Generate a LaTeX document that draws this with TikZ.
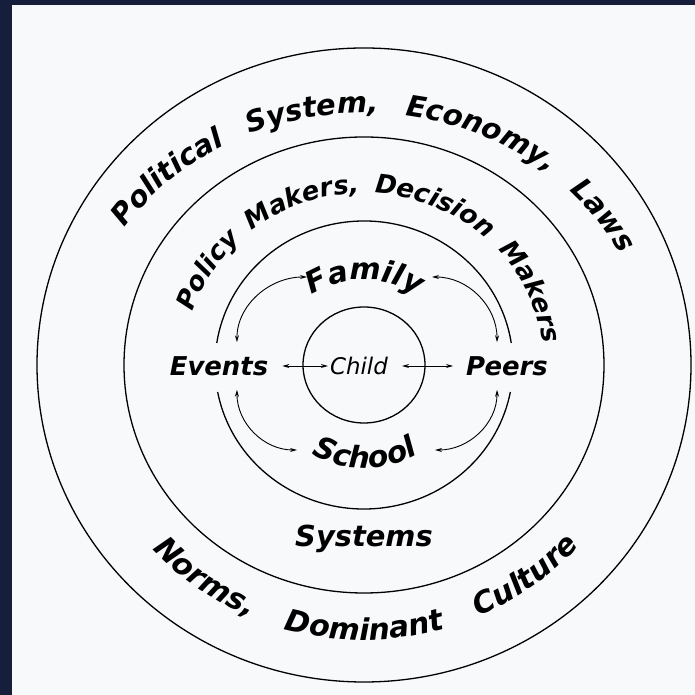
\documentclass[tikz,border=0pt]{standalone}
\usepackage{fontspec}
\setmainfont{DejaVu Sans}
\usetikzlibrary{calc,arrows.meta,decorations.text}

\definecolor{navy}{RGB}{21,30,58}
\definecolor{paper}{RGB}{248,249,250}

\newcommand{\LabelFont}{\fontsize{26}{28}\selectfont\bfseries\itshape}
\newcommand{\RingFont}{\fontsize{29}{31}\selectfont\bfseries\itshape}
\newcommand{\BigRingFont}{\fontsize{30}{32}\selectfont\bfseries\itshape}
\newcommand{\ChildFont}{\fontsize{23}{25}\selectfont\itshape}

\begin{document}
\begin{tikzpicture}[x=1bp,y=1bp,
  ring/.style={line width=1.3bp},
  link/.style={line width=0.9bp, {Stealth[length=7bp,width=4bp]}-{Stealth[length=7bp,width=4bp]}},
  lbl/.style={font=\LabelFont, inner sep=2bp},
  ringtext/.style 2 args={decorate, decoration={text along path, text align={fit to path stretching spaces}, text={|#1|#2}}},
  arctext/.style={decorate, decoration={text along path, text align=center, text={|\BigRingFont|#1}}}]
  \useasboundingbox (0,0) rectangle (695,695);
  \fill[navy] (0,0) rectangle (695,695);
  \fill[paper] (12,0) rectangle (695,690);
  \coordinate (O) at (364,330);
  % rings
  \draw[ring] (O) ellipse[x radius=327, y radius=317];
  \draw[ring] (O) ellipse[x radius=240, y radius=228];
  \draw[ring] ($(O)+(8.8:149 and 144)$) arc[start angle=8.8, end angle=171.2, x radius=149, y radius=144];
  \draw[ring] ($(O)+(190.8:149 and 144)$) arc[start angle=190.8, end angle=349.2, x radius=149, y radius=144];
  \draw[ring] (O) ellipse[x radius=61, y radius=58];
  % ring labels
  \path[ringtext={\RingFont}{Political System, Economy, Laws}] ($(O)+(147:285 and 252)$) arc[start angle=147, end angle=26, x radius=285, y radius=252];
  \path[ringtext={\LabelFont}{Policy Makers, Decision Makers}] ($(O)+(162:180 and 172)$) arc[start angle=162, end angle=7, x radius=180, y radius=172];
  \path[ringtext={\BigRingFont}{Norms, Dominant Culture}] ($(O)+(222:285 and 275)$) arc[start angle=222, end angle=319, x radius=285, y radius=275];
  \path[arctext={Family}] ($(365,315)+(130:100)$) arc[start angle=130, end angle=50, radius=100];
  \path[arctext={School}] ($(365,337)+(230:110)$) arc[start angle=230, end angle=310, radius=110];
  % nodes
  \node[lbl] (events) at (219,329) {Events};
  \node[lbl] (peers) at (507,329) {Peers};
  \node[font=\ChildFont, inner sep=2bp] (child) at (359,329) {Child};
  \node[font=\RingFont, inner sep=2bp] (systems) at (364,156) {Systems};
  \coordinate (fam-w) at (307,418);
  \coordinate (fam-e) at (432,418);
  \coordinate (sch-w) at (297,245);
  \coordinate (sch-e) at (435,245);
  \coordinate (ev-n) at ([xshift=18,yshift=12]events.north);
  \coordinate (ev-s) at ([xshift=18,yshift=-12]events.south);
  \coordinate (pe-n) at ([xshift=-10,yshift=12]peers.north);
  \coordinate (pe-s) at ([xshift=-10,yshift=-12]peers.south);
  % arrows
  \draw[link] (fam-w) to[out=180,in=90] (ev-n);
  \draw[link] (fam-e) to[out=0,in=90] (pe-n);
  \draw[link] (ev-s) to[out=-90,in=180] (sch-w);
  \draw[link] (pe-s) to[out=-90,in=0] (sch-e);
  \draw[link] ([xshift=12]events.east) -- (child.west);
  \draw[link] ([xshift=12]child.east) -- ([xshift=-11]peers.west);
\end{tikzpicture}
\end{document}
